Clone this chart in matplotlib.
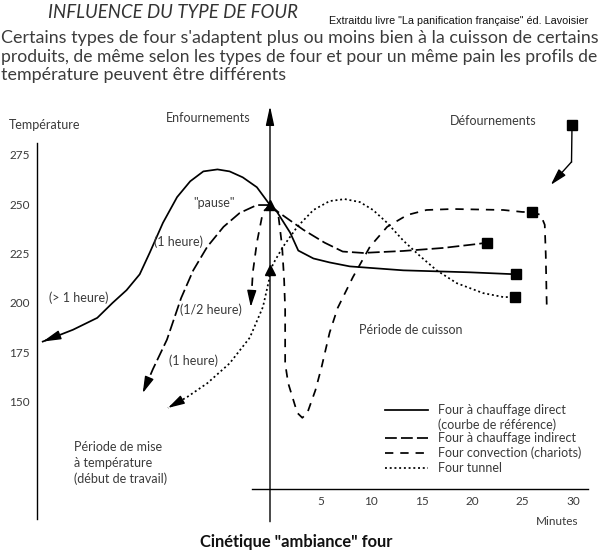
import matplotlib
matplotlib.use('Agg')
import matplotlib.pyplot as plt
import numpy as np

plt.rcParams['lines.scale_dashes'] = False

# ---------------- data : time (min, 0 = enfournement) / temperature (°C) ----
direct_pre_t = [-22.5, -19.5, -17.1, -15.6, -14.2, -12.9, -11.9, -10.6, -9.2, -7.9, -6.6, -5.2, -4.0, -2.7, -1.3, 0]
direct_pre_T = [181, 187, 193, 200.5, 207, 215, 226, 241, 254, 262, 267, 268, 267, 264, 259, 250]
direct_t = [0, 0.7, 2.0, 2.8, 4.3, 5.9, 7.9, 13.2, 19.8, 24.4]
direct_T = [250, 246.5, 236, 227, 223, 221, 219, 217, 216, 215]

indirect_pre_t = [0, -1.3, -3.0, -4.6, -6.2, -7.6, -8.8, -10.2, -11.6, -12.6]
indirect_pre_T = [250, 250, 246, 239, 229, 217, 203, 182, 167, 155]
indirect_t = [0, 0.8, 3.3, 5.4, 7.2, 9.2, 13.2, 17.1, 20.5, 21.5]
indirect_T = [250, 246.5, 237.5, 231, 226.5, 225.8, 226.8, 228.3, 230.3, 231]

conv_pre_t = [0, -0.7, -1.3, -1.7, -1.9]
conv_pre_T = [250, 246.5, 231, 216, 198.5]
conv_t = [0, 0.8, 1.2, 1.4, 1.5, 1.5, 1.8, 2.7, 3.2, 3.7, 4.5, 5.1, 5.9, 6.7, 8.2, 9.9,
          11.6, 13.6, 15.5, 18.1, 23.1, 25.0, 25.9, 26.8, 27.2, 27.3, 27.4]
conv_T = [250, 246, 229, 212, 197, 170, 160, 145, 142.5, 145, 156.5, 168, 185.5, 198, 213.5, 229,
          239, 245, 247.5, 248, 247.5, 246.5, 246.5, 245, 240, 225, 198.5]

tunnel_pre_t = [0, -0.1, -0.7, -2.0, -4.0, -6.2, -8.2, -10.1]
tunnel_pre_T = [217, 212, 198.5, 183, 170, 160, 153, 147.5]
tunnel_t = [0, 0.5, 1.3, 2.7, 4.3, 5.9, 7.4, 8.9, 10.2, 11.6, 13.2, 14.9, 16.5, 18.5, 21.1, 23.1, 24.3]
tunnel_T = [217, 222, 229, 239, 247.5, 252, 253, 251.5, 247.5, 241, 232, 224, 217, 210.5, 205.5, 203.5, 203.5]

# enfournement markers (triangles) and défournement markers (squares)
enf_t = [0, 0]
enf_T = [250, 217]
def_t = [24.4, 21.5, 25.9, 24.3]
def_T = [215, 231, 246.5, 203.5]

y_ticks = [275, 250, 225, 200, 175, 150]
x_ticks = [5, 10, 15, 20, 25, 30]

legend_labels = ["Four à chauffage direct", "(courbe de référence)",
                 "Four à chauffage indirect", "Four convection (chariots)", "Four tunnel"]

# ---------------- figure ------------------------------------------------------
fig = plt.figure(figsize=(6, 5.5), dpi=100)
ax = fig.add_axes([0, 0, 1, 1])
ax.set_xlim(-26.73, 32.67)
ax.set_ylim(75.7, 353.6)
ax.axis('off')

FONT = 'Lato'
TXT = '#3a3a3a'
LW = 1.25
LS_DIRECT = '-'
LS_INDIRECT = (0, (8.5, 3.0))
LS_CONV = (0, (6.0, 5.0))
LS_TUNNEL = (0, (1.4, 2.0))

# axes
ax.plot([-23.1, -23.1], [91.4, 281.4], color='k', lw=1.0)
ax.plot([-1.8, 31.5], [106.5, 106.5], color='k', lw=1.0)
ax.annotate('', xy=(0, 300), xytext=(0, 90),
            arrowprops=dict(arrowstyle='-|>,head_length=1.15,head_width=0.25',
                            mutation_scale=10, color='k', lw=1.0, shrinkA=0, shrinkB=0))


def head(prev, tip, hl=1.0, hw=0.28, ms=10):
    p0 = ax.transData.transform(prev)
    p1 = ax.transData.transform(tip)
    d = p1 - p0
    d = d / np.hypot(*d)
    L = hl * ms * 100 / 72 + 1.5
    start = ax.transData.inverted().transform(p1 - d * L)
    ax.annotate('', xy=tip, xytext=tuple(start),
                arrowprops=dict(arrowstyle=f'-|>,head_length={hl},head_width={hw}',
                                mutation_scale=ms, color='k', lw=1.0,
                                shrinkA=0, shrinkB=0))


# curves
ax.plot(direct_pre_t, direct_pre_T, color='k', lw=LW, ls=LS_DIRECT, solid_joinstyle='round')
ax.plot(direct_t, direct_T, color='k', lw=LW, ls=LS_DIRECT, solid_joinstyle='round')
ax.plot(indirect_pre_t, indirect_pre_T, color='k', lw=LW, ls=LS_INDIRECT)
ax.plot(indirect_t, indirect_T, color='k', lw=LW, ls=LS_INDIRECT)
ax.plot(conv_pre_t, conv_pre_T, color='k', lw=LW, ls=LS_CONV)
ax.plot(conv_t, conv_T, color='k', lw=LW, ls=LS_CONV)
ax.plot(tunnel_pre_t, tunnel_pre_T, color='k', lw=LW, ls=LS_TUNNEL)
ax.plot(tunnel_t, tunnel_T, color='k', lw=LW, ls=LS_TUNNEL)

head((direct_pre_t[1], direct_pre_T[1]), (direct_pre_t[0], direct_pre_T[0]), hl=1.1)
head((indirect_pre_t[-2], indirect_pre_T[-2]), (indirect_pre_t[-1], indirect_pre_T[-1]))
head((conv_pre_t[-2], conv_pre_T[-2]), (conv_pre_t[-1], conv_pre_T[-1]))
head((tunnel_pre_t[-2], tunnel_pre_T[-2]), (tunnel_pre_t[-1], tunnel_pre_T[-1]))

ax.plot(enf_t, enf_T, ls='none', marker='^', ms=7.5, color='k')
ax.plot(def_t, def_T, ls='none', marker='s', ms=6.5, color='k')

# défournement indicator
ax.plot([29.9], [290.5], ls='none', marker='s', ms=6.5, color='k')
ax.plot([29.9, 29.85], [290.5, 271.8], color='k', lw=1.0)
ax.annotate('', xy=(27.8, 260.2), xytext=(29.85, 271.8),
            arrowprops=dict(arrowstyle='-|>,head_length=1.0,head_width=0.28',
                            mutation_scale=10, color='k', lw=1.0, shrinkA=0, shrinkB=0))

# tick labels
for v in y_ticks:
    ax.text(-25.8, v, str(v), ha='left', va='center', fontsize=8.5, family=FONT, color=TXT)
for v in x_ticks:
    ax.text(v, 100.0, str(v), ha='center', va='center', fontsize=8.5, family=FONT, color=TXT)
ax.text(28.4, 89.9, "Minutes", ha='center', va='center', fontsize=8.5, family=FONT, color=TXT)

# labels
lab = dict(family=FONT, color=TXT, fontsize=9)
ax.text(-25.84, 290.5, "Température", ha='left', va='center', **lab)
ax.text(-6.09, 294.0, "Enfournements", ha='center', va='center', **lab)
ax.text(22.08, 292.5, "Défournements", ha='center', va='center', **lab)
ax.text(-5.59, 251.0, '"pause"', ha='center', va='center', **lab)
ax.text(-9.1, 231.3, "(1 heure)", ha='center', va='center', **lab)
ax.text(-18.9, 203.0, "(> 1 heure)", ha='center', va='center', **lab)
ax.text(-5.89, 197.0, "(1/2 heure)", ha='center', va='center', **lab)
ax.text(-7.62, 171.2, "(1 heure)", ha='center', va='center', **lab)
ax.text(13.96, 186.9, "Période de cuisson", ha='center', va='center', **lab)
ax.text(-19.4, 127.75, "Période de mise", ha='left', va='center', **lab)
ax.text(-19.4, 119.7, "à température", ha='left', va='center', **lab)
ax.text(-19.4, 111.6, "(début de travail)", ha='left', va='center', **lab)

# manual legend
leg_y = [146.5, 138.9, 132.3, 124.7, 117.1]
ax.plot([11.39, 15.64], [leg_y[0]] * 2, color='k', lw=LW, ls=LS_DIRECT)
ax.plot([11.39, 15.64], [leg_y[2]] * 2, color='k', lw=LW, ls=LS_INDIRECT)
ax.plot([11.39, 15.64], [leg_y[3]] * 2, color='k', lw=LW, ls=LS_CONV)
ax.plot([11.39, 15.64], [leg_y[4]] * 2, color='k', lw=LW, ls=LS_TUNNEL)
for y, s in zip(leg_y, legend_labels):
    ax.text(16.63, y, s, ha='left', va='center', **lab)

# ---------------- top texts -------------------------------------------------
W, H = 600.0, 550.0


def ftext(x, y, s, **kw):
    return fig.text(x / W, 1 - y / H, s, **kw)


def fit(t, target):
    fig.canvas.draw()
    r = fig.canvas.get_renderer()
    w = t.get_window_extent(r).width
    t.set_fontsize(t.get_fontsize() * target / w)


title = ftext(48, 12, "INFLUENCE DU TYPE DE FOUR", ha='left', va='center',
              family=FONT, style='italic', fontsize=13, color='#333333')
src = ftext(329, 21, 'Extraitdu livre "La panification française" éd. Lavoisier',
            ha='left', va='center', family='Liberation Sans', fontsize=8, color='#111111')
par = dict(ha='left', va='center', family=FONT, fontsize=11, color='#3c3c3c')
p1 = ftext(1, 38, "Certains types de four s'adaptent plus ou moins bien à la cuisson de certains", **par)
p2 = ftext(1, 57, "produits, de même selon les types de four et pour un même pain les profils de", **par)
p3 = ftext(1, 75, "température peuvent être différents", **par)
bottom = ax.text(2.57, 79.7, 'Cinétique "ambiance" four', ha='center', va='center',
                 family=FONT, fontweight='bold', fontsize=10, color='#111111')

fit(title, 250)
fit(src, 259)
fit(p1, 596)
fit(p2, 596)
p3.set_fontsize(p1.get_fontsize())
fit(bottom, 194)

fig.savefig('out.png', dpi=100)
